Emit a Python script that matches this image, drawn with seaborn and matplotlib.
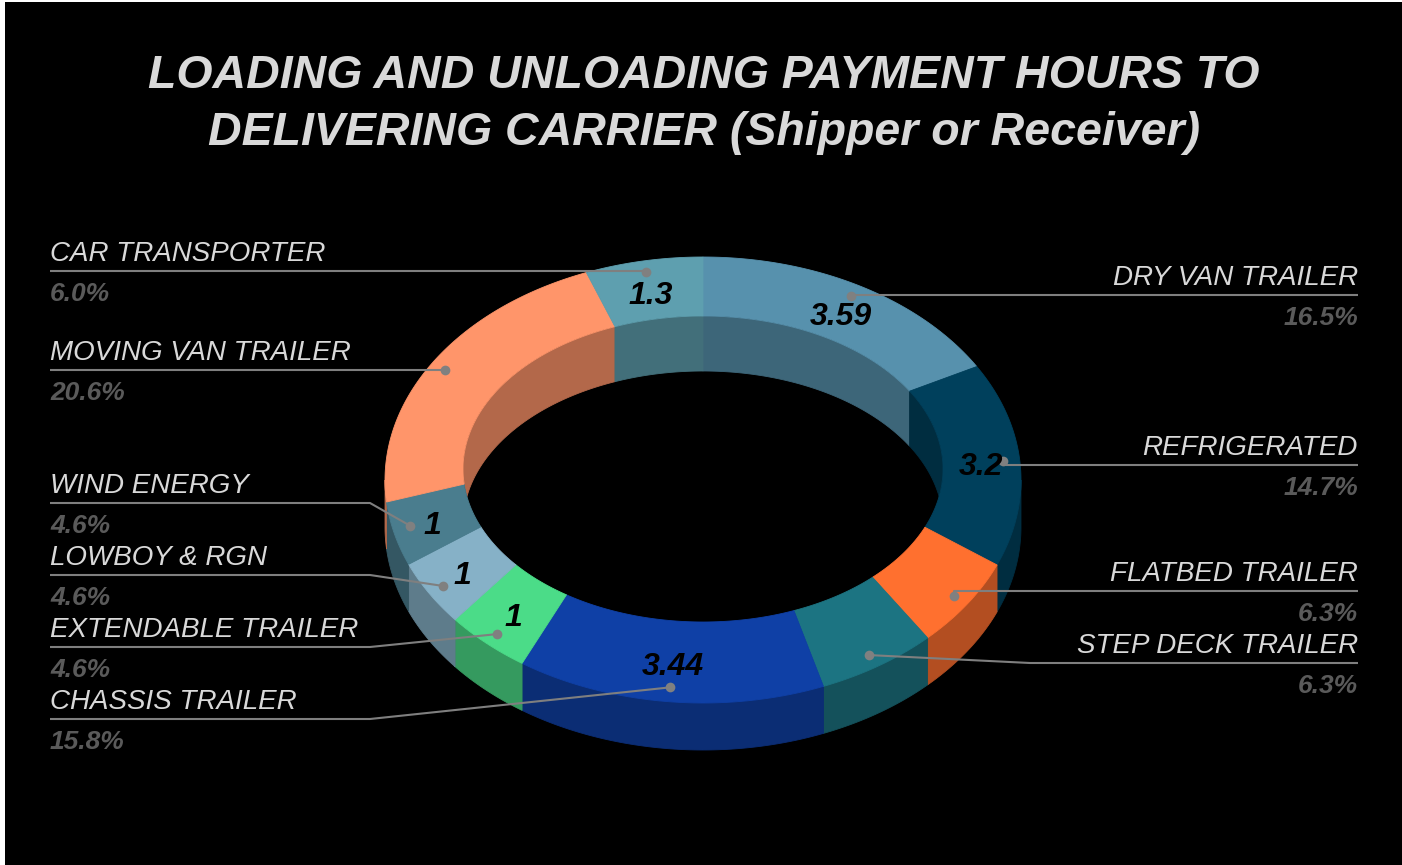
import numpy as np
import matplotlib
matplotlib.use("Agg")
import matplotlib.pyplot as plt
from matplotlib.patches import Polygon
import seaborn as sns

# ---------------- data ----------------
categories = ["DRY VAN TRAILER", "REFRIGERATED", "FLATBED TRAILER", "STEP DECK TRAILER",
              "CHASSIS TRAILER", "EXTENDABLE TRAILER", "LOWBOY & RGN", "WIND ENERGY",
              "MOVING VAN TRAILER", "CAR TRANSPORTER"]
hours = [3.59, 3.2, 1.37, 1.37, 3.44, 1, 1, 1, 4.48, 1.3]
value_shown = [True, True, False, False, True, True, True, True, False, True]
slice_colors = ["#5791AD", "#00405C", "#FF702F", "#1C7482", "#0F40A6",
                "#4BDC88", "#86B1C7", "#4A7D8E", "#FF956A", "#5E9FAF"]
title_lines = ["LOADING AND UNLOADING PAYMENT HOURS TO",
               "DELIVERING CARRIER (Shipper or Receiver)"]

# ---------------- layout ----------------
label_side = ["R", "R", "R", "R", "L", "L", "L", "L", "L", "L"]
label_line_y = [295, 465, 591, 663, 719, 647, 575, 503, 370, 271]
dot_offsets = [(10, -15), (22, 0), (19, 17), (12, 24), (-3, 26),
               (-16, 22), (-20, 16), (-22, 6), (-20, -7), (-5, -18)]
W, H = 1402, 865
CX = 703
INNER = dict(cy=469, rx=240, ry=153)
OUTER = dict(cy=480, rx=318, ry=223)
DEPTH_OUT, DEPTH_IN = 47, 55

sns.set_theme(style="dark")
plt.rcParams["font.family"] = ["Liberation Sans", "DejaVu Sans"]

fig = plt.figure(figsize=(W / 100, H / 100), dpi=100, facecolor="white")
ax = fig.add_axes([0, 0, 1, 1])
ax.set_xlim(0, W)
ax.set_ylim(H, 0)
ax.set_facecolor("black")
ax.axis("off")
ax.add_patch(plt.Rectangle((5, 2), W - 5, H - 2, facecolor="black", edgecolor="none", zorder=0))


def ring_xy(theta_deg, f):
    cy = INNER["cy"] + (OUTER["cy"] - INNER["cy"]) * f
    rx = INNER["rx"] + (OUTER["rx"] - INNER["rx"]) * f
    ry = INNER["ry"] + (OUTER["ry"] - INNER["ry"]) * f
    t = np.radians(theta_deg)
    return CX + rx * np.cos(t), cy - ry * np.sin(t)


def darker(c, k=0.7):
    r, g, b = matplotlib.colors.to_rgb(c)
    return (r * k, g * k, b * k)


def overlap(a_hi, a_lo, v_lo, v_hi):
    lo, hi = max(a_lo, v_lo), min(a_hi, v_hi)
    return (hi, lo) if hi > lo else None


total = float(np.sum(hours))
fracs = np.array(hours) / total
cum = np.concatenate([[0], np.cumsum(fracs)])

# hole clip path
th_all = np.linspace(0, 360, 400)
hx, hy = ring_xy(th_all, 0.0)
hole = Polygon(np.column_stack([hx, hy]), closed=True, transform=ax.transData,
               facecolor="none", edgecolor="none")
ax.add_patch(hole)

for i, col in enumerate(slice_colors):
    t0 = 90 - cum[i] * 360
    t1 = 90 - cum[i + 1] * 360
    side_col = darker(col)
    # inner wall (far side)
    for vis in [(0, 90), (-270, -180)]:
        ov = overlap(t0, t1, *vis)
        if ov:
            th = np.linspace(ov[0], ov[1], 80)
            x, y = ring_xy(th, 0.0)
            pts = np.vstack([np.column_stack([x, y]), np.column_stack([x[::-1], y[::-1] + DEPTH_IN])])
            p = Polygon(pts, closed=True, facecolor=side_col, edgecolor=side_col, lw=0.6, zorder=1)
            ax.add_patch(p)
            p.set_clip_path(hole)
    # outer wall (near side)
    ov = overlap(t0, t1, -180, 0)
    if ov:
        th = np.linspace(ov[0], ov[1], 80)
        x, y = ring_xy(th, 1.0)
        pts = np.vstack([np.column_stack([x, y]), np.column_stack([x[::-1], y[::-1] + DEPTH_OUT])])
        ax.add_patch(Polygon(pts, closed=True, facecolor=side_col, edgecolor=side_col, lw=0.6, zorder=2))
    # top face
    th = np.linspace(t0, t1, 120)
    xo, yo = ring_xy(th, 1.0)
    xi, yi = ring_xy(th[::-1], 0.0)
    pts = np.vstack([np.column_stack([xo, yo]), np.column_stack([xi, yi])])
    ax.add_patch(Polygon(pts, closed=True, facecolor=col, edgecolor=col, lw=0.6, zorder=3))

# labels
line_col = "#7F7F7F"
for i, name in enumerate(categories):
    mid = 90 - (cum[i] + cum[i + 1]) / 2 * 360
    vx, vy = ring_xy(mid, 0.5)
    dx, dy = dot_offsets[i]
    px, py = vx + dx, vy + dy
    ly = label_line_y[i]
    if label_side[i] == "L":
        x_txt, ha, elbow = 50, "left", 370
    else:
        x_txt, ha, elbow = 1358, "right", 1030
    if (label_side[i] == "L" and px < elbow) or (label_side[i] == "R" and px > elbow):
        elbow = px
    if label_side[i] == "L" and px > elbow and abs(py - ly) < 6:
        elbow = px
    if label_side[i] == "R" and px < elbow and abs(py - ly) < 6:
        elbow = px
    ax.plot([x_txt, elbow, px], [ly, ly, py], color=line_col, lw=1.5, zorder=4,
            solid_capstyle="butt")
    ax.plot([px], [py], marker="o", ms=7, color="#808080", mec="none", zorder=5)
    ax.text(x_txt, ly - 4, name, ha=ha, va="bottom", fontsize=20, style="italic",
            color="#D9D9D9", zorder=6)
    ax.text(x_txt, ly + 11, f"{fracs[i] * 100:.1f}%", ha=ha, va="top", fontsize=19,
            style="italic", color="#5A5A5A", fontweight="bold", zorder=6)
    if value_shown[i]:
        ax.text(vx, vy + 6, f"{hours[i]:g}", ha="center", va="center", fontsize=23,
                style="italic", fontweight="bold", color="black", zorder=6)

for k, line in enumerate(title_lines):
    ax.text(W / 2 + 3, 76 + 57 * k, line, ha="center", va="center", fontsize=33.5,
            style="italic", fontweight="bold", color="#D9D9D9", zorder=6)

fig.savefig("out.png", dpi=100, facecolor=fig.get_facecolor())
